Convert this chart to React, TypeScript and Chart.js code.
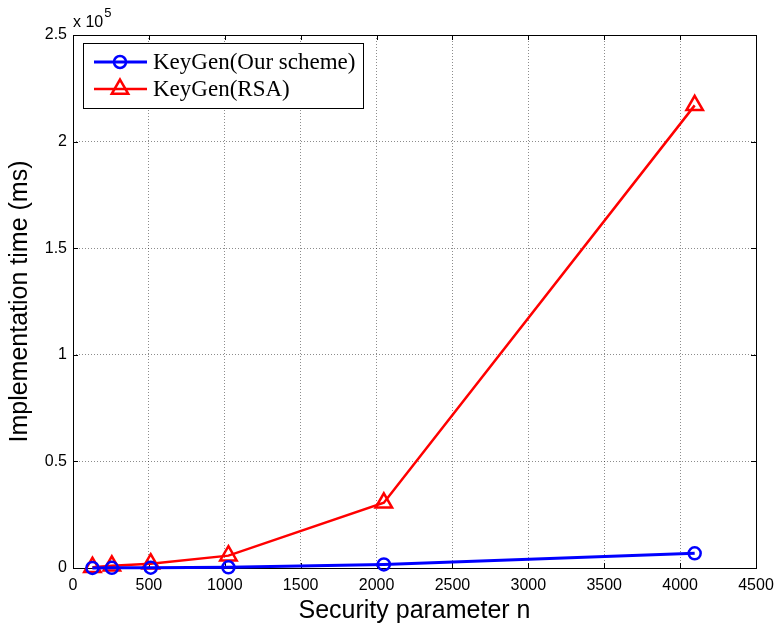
import React, { useEffect, useRef } from 'react';
import { Chart, registerables } from 'chart.js';

Chart.register(...registerables);

// ---- data ----
const securityParams = [128, 256, 512, 1024, 2048, 4096];
const ourSchemeTimes = [30, 60, 120, 300, 1700, 6900];
const rsaTimes = [400, 1000, 2000, 5800, 30600, 217000];
const seriesLabels = ['KeyGen(Our scheme)', 'KeyGen(RSA)'];
const xAxisTitle = 'Security parameter n';
const yAxisTitle = 'Implementation time (ms)';
const exponentBase = 'x 10';
const exponentPower = '5';

const SANS = '"Liberation Sans", Arial, Helvetica, sans-serif';
const SERIF = '"Liberation Serif", "Times New Roman", serif';

function drawMarker(ctx: CanvasRenderingContext2D, style: string, x: number, y: number, r: number) {
  ctx.beginPath();
  if (style === 'triangle') {
    let rad = 0;
    ctx.moveTo(x + Math.sin(rad) * r, y - Math.cos(rad) * r);
    rad += (2 * Math.PI) / 3;
    ctx.lineTo(x + Math.sin(rad) * r, y - Math.cos(rad) * r);
    rad += (2 * Math.PI) / 3;
    ctx.lineTo(x + Math.sin(rad) * r, y - Math.cos(rad) * r);
    ctx.closePath();
  } else {
    ctx.arc(x, y, r, 0, Math.PI * 2);
  }
  ctx.stroke();
}

const matlabPlugin = {
  id: 'matlabStyle',
  beforeDatasetsDraw(chart: any) {
    const { ctx, chartArea: a, scales } = chart;
    ctx.save();
    ctx.strokeStyle = '#000';
    ctx.lineWidth = 1;
    ctx.strokeRect(Math.round(a.left) + 0.5, Math.round(a.top) + 0.5, Math.round(a.right - a.left), Math.round(a.bottom - a.top));
    const tl = 5;
    ctx.beginPath();
    scales.x.ticks.forEach((t: any) => {
      const px = Math.round(scales.x.getPixelForValue(t.value)) + 0.5;
      ctx.moveTo(px, a.bottom);
      ctx.lineTo(px, a.bottom - tl);
      ctx.moveTo(px, a.top);
      ctx.lineTo(px, a.top + tl);
    });
    scales.y.ticks.forEach((t: any) => {
      const py = Math.round(scales.y.getPixelForValue(t.value)) + 0.5;
      ctx.moveTo(a.left, py);
      ctx.lineTo(a.left + tl, py);
      ctx.moveTo(a.right, py);
      ctx.lineTo(a.right - tl, py);
    });
    ctx.stroke();
    ctx.restore();
  },
  afterDraw(chart: any) {
    const { ctx, chartArea: a } = chart;
    ctx.save();
    // exponent label
    ctx.fillStyle = '#000';
    ctx.textAlign = 'left';
    ctx.textBaseline = 'alphabetic';
    ctx.font = `16px ${SANS}`;
    ctx.fillText(exponentBase, a.left, 27);
    const w = ctx.measureText(exponentBase).width;
    ctx.font = `13px ${SANS}`;
    ctx.fillText(exponentPower, a.left + w + 1, 17);

    // legend
    const bx = a.left + 10, by = a.top + 8, bw = 280, bh = 65;
    ctx.fillStyle = '#fff';
    ctx.fillRect(bx, by, bw, bh);
    ctx.strokeStyle = '#000';
    ctx.lineWidth = 1;
    ctx.strokeRect(bx + 0.5, by + 0.5, bw, bh);
    chart.data.datasets.forEach((ds: any, i: number) => {
      const y = by + 19 + i * 27;
      ctx.strokeStyle = ds.borderColor;
      ctx.lineWidth = ds.borderWidth;
      ctx.beginPath();
      ctx.moveTo(bx + 11, y);
      ctx.lineTo(bx + 64, y);
      ctx.stroke();
      ctx.lineWidth = ds.pointBorderWidth;
      drawMarker(ctx, ds.pointStyle, bx + 37, y, ds.pointRadius);
      ctx.fillStyle = '#000';
      ctx.font = `23px ${SERIF}`;
      ctx.textBaseline = 'middle';
      ctx.fillText(ds.label, bx + 70, y + 1);
    });
    ctx.restore();
  },
};

export default function App() {
  const canvasRef = useRef<HTMLCanvasElement | null>(null);

  useEffect(() => {
    const canvas = canvasRef.current;
    if (!canvas) return;
    const chart = new Chart(canvas, {
      type: 'line',
      data: {
        datasets: [
          {
            label: seriesLabels[0],
            data: securityParams.map((x, i) => ({ x, y: ourSchemeTimes[i] })),
            borderColor: '#0000ff',
            backgroundColor: 'rgba(0,0,0,0)',
            borderWidth: 3,
            pointStyle: 'circle',
            pointRadius: 6,
            pointBorderWidth: 2.5,
            pointBackgroundColor: 'rgba(0,0,0,0)',
            pointBorderColor: '#0000ff',
            tension: 0,
            clip: false as any,
          },
          {
            label: seriesLabels[1],
            data: securityParams.map((x, i) => ({ x, y: rsaTimes[i] })),
            borderColor: '#ff0000',
            backgroundColor: 'rgba(0,0,0,0)',
            borderWidth: 2.5,
            pointStyle: 'triangle',
            pointRadius: 9.5,
            pointBorderWidth: 2.5,
            pointBackgroundColor: 'rgba(0,0,0,0)',
            pointBorderColor: '#ff0000',
            tension: 0,
            clip: false as any,
          },
        ],
      },
      options: {
        responsive: false,
        animation: false,
        devicePixelRatio: 1,
        layout: { padding: { left: 0, right: 20, top: 35, bottom: 0 } },
        plugins: {
          legend: { display: false },
          tooltip: { enabled: false },
        },
        scales: {
          x: {
            type: 'linear',
            min: 0,
            max: 4500,
            afterFit: (s: any) => { s.height = 60; s.paddingLeft = 0; s.paddingRight = 0; },
            ticks: {
              stepSize: 500,
              color: '#000',
              font: { family: SANS, size: 16 },
              padding: 8,
              maxRotation: 0,
              autoSkip: false,
              callback: (v: any) => String(v),
            },
            grid: { color: 'rgba(0,0,0,0.45)', drawTicks: false, lineWidth: 1 },
            border: { display: false, dash: [1, 2] },
            title: {
              display: true,
              text: xAxisTitle,
              color: '#000',
              font: { family: SANS, size: 25 },
              padding: { top: 0, bottom: 2 },
            },
          },
          y: {
            type: 'linear',
            min: 0,
            max: 250000,
            afterFit: (s: any) => { s.width = 73; s.paddingTop = 0; s.paddingBottom = 0; },
            ticks: {
              stepSize: 50000,
              color: '#000',
              font: { family: SANS, size: 16 },
              padding: 6,
              callback: (v: any) => (v === 0 ? '0' : String(Number(v) / 1e5)),
            },
            grid: { color: 'rgba(0,0,0,0.45)', drawTicks: false, lineWidth: 1 },
            border: { display: false, dash: [1, 2] },
            title: {
              display: true,
              text: yAxisTitle,
              color: '#000',
              font: { family: SANS, size: 25 },
              padding: { top: 5, bottom: 0 },
            },
          },
        },
      },
      plugins: [matlabPlugin],
    });
    return () => chart.destroy();
  }, []);

  return (
    <div style={{ position: 'absolute', left: 0, top: 0, width: 776, height: 628, background: '#fff' }}>
      <canvas ref={canvasRef} width={776} height={628} />
    </div>
  );
}
